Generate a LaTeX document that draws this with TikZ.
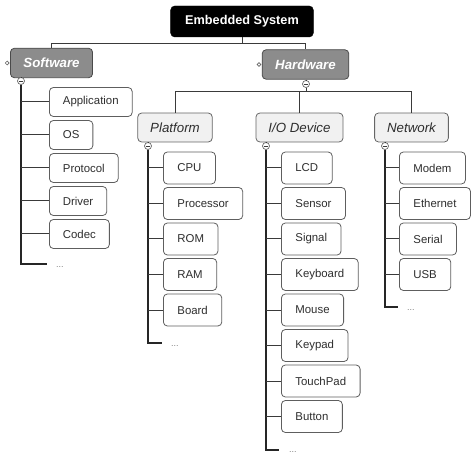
\documentclass[tikz,border=0pt]{standalone}
\usepackage{fontspec}
\setmainfont{Liberation Sans}
\usepackage{tikz}
\usetikzlibrary{shapes,arrows,positioning}

\definecolor{BranchFill}{HTML}{8C8C8C}
\definecolor{BranchLine}{HTML}{4A4A4A}
\definecolor{GroupFill}{HTML}{F1F1F1}
\definecolor{GroupLine}{HTML}{666666}
\definecolor{LeafLine}{HTML}{5E5E5E}
\definecolor{LeafText}{HTML}{2E2E2E}
\definecolor{WireColor}{HTML}{3A3A3A}

\begin{document}
\begin{tikzpicture}[x=1pt, y=-1pt]
		\tikzstyle{Root}	= [rectangle, rounded corners=4pt, fill=black, draw=black, text=white, font=\fontsize{12.7}{14}\selectfont\bfseries, inner xsep=14.5pt, minimum height=31pt]
		\tikzstyle{Branch}	= [rectangle, rounded corners=4pt, fill=BranchFill, draw=BranchLine, line width=0.8pt, text=white, font=\fontsize{13.3}{15}\selectfont\bfseries\itshape, inner xsep=13pt, minimum height=29.5pt]
		\tikzstyle{Group}	= [rectangle, rounded corners=4pt, fill=GroupFill, draw=GroupLine, line width=0.8pt, text=LeafText, font=\fontsize{13.3}{15}\selectfont\itshape, inner xsep=12.5pt, minimum height=29pt]
		\tikzstyle{Leaf}	= [rectangle, rounded corners=4pt, fill=white, draw=LeafLine, line width=0.8pt, text=LeafText, font=\fontsize{11.4}{13}\selectfont, inner xsep=14pt, minimum height=32pt, anchor=west]
		\tikzstyle{SWLeaf}	= [Leaf, inner xsep=13.5pt, minimum height=29pt]
		\tikzstyle{Toggle}	= [circle, draw=GroupLine, line width=0.7pt, fill=white, minimum size=7pt, inner sep=0pt, path picture={\draw [WireColor, line width=0.7pt] ([xshift=1.5pt]path picture bounding box.west) -- ([xshift=-1.5pt]path picture bounding box.east);}]
		\tikzstyle{Knob}	= [circle, draw=GroupLine, line width=0.6pt, fill=white, minimum size=3.8pt, inner sep=0pt]
		\tikzstyle{Dots}	= [inner sep=0pt, anchor=west, text=gray, font=\fontsize{9}{10}\selectfont]
		\tikzstyle{Tie}		= [draw=WireColor, line width=1pt]
		\tikzstyle{Trunk}	= [draw=black!85, line width=1.5pt]
		\tikzstyle{Twig}	= [draw=WireColor, line width=1pt]

		\useasboundingbox (0,0) rectangle (471,454);

		% top levels
		\node (root) at (242, 21.5) [Root] {Embedded System};
		\node (sw) at (51.5, 63) [Branch] {Software};
		\node (hw) at (305.5, 64.5) [Branch] {Hardware};
		\node (swk) [Knob, left=0.6pt of sw] {};
		\node (hwk) [Knob, left=0.6pt of hw] {};
		\node (swm) at (21, 81) [Toggle] {};
		\node (hwm) at (306, 84) [Toggle] {};

		\node (plat) at (175, 127.5) [Group] {Platform};
		\node (io) at (299.5, 127.5) [Group] {I/O Device};
		\node (net) at (411.5, 127.5) [Group] {Network};
		\node (platm) at (148, 146) [Toggle] {};
		\node (iom) at (266, 146) [Toggle] {};
		\node (netm) at (385, 146) [Toggle] {};

		% software leaves
		\node (app) at (49, 102) [SWLeaf] {Application};
		\node (os) at (49, 135) [SWLeaf] {OS};
		\node (proto) at (49, 168) [SWLeaf] {Protocol};
		\node (drv) at (49, 201) [SWLeaf] {Driver};
		\node (codec) at (49, 234) [SWLeaf] {Codec};
		\coordinate (swend) at (47, 264);
		\node (swdots) [Dots, right=9pt of swend, yshift=-3pt] {...};

		% platform leaves
		\node (cpu) at (163, 168) [Leaf] {CPU};
		\node (proc) at (163, 203.5) [Leaf] {Processor};
		\node (rom) at (163, 239) [Leaf] {ROM};
		\node (ram) at (163, 274.5) [Leaf] {RAM};
		\node (board) at (163, 310) [Leaf] {Board};
		\coordinate (platend) at (162, 343);
		\node (platdots) [Dots, right=9pt of platend, yshift=-3pt] {...};

		% i/o leaves
		\node (lcd) at (281, 168) [Leaf] {LCD};
		\node (sensor) at (281, 203.5) [Leaf] {Sensor};
		\node (signal) at (281, 239) [Leaf] {Signal};
		\node (kbd) at (281, 274.5) [Leaf] {Keyboard};
		\node (mouse) at (281, 310) [Leaf] {Mouse};
		\node (keypad) at (281, 345.5) [Leaf] {Keypad};
		\node (touch) at (281, 381) [Leaf] {TouchPad};
		\node (button) at (281, 416.5) [Leaf] {Button};
		\coordinate (ioend) at (279, 450);
		\node (iodots) [Dots, right=10pt of ioend, yshift=-2.5pt] {...};

		% network leaves
		\node (modem) at (399, 168) [Leaf] {Modem};
		\node (eth) at (399, 203.5) [Leaf] {Ethernet};
		\node (serial) at (399, 239) [Leaf] {Serial};
		\node (usb) at (399, 274.5) [Leaf] {USB};
		\coordinate (netend) at (398, 307);
		\node (netdots) [Dots, right=9pt of netend, yshift=-3pt] {...};

		% connectors
		\draw [-] (root.south) -- ++(0,6) -| (sw.north) [Tie];
		\draw [-] (root.south) -- ++(0,6) -| (hw.north) [Tie];
		\draw [-] (sw.south -| swm) to (swm.north) [Tie];
		\draw [-] (hw.south -| hwm) to (hwm.north) [Tie];
		\draw [-] (hwm.south) -- ++(0,4) -| (plat.north) [Tie];
		\draw [-] (hwm.south) -- ++(0,4) -| (io.north) [Tie];
		\draw [-] (hwm.south) -- ++(0,4) -| (net.north) [Tie];
		\draw [-] (plat.south -| platm) to (platm.north) [Tie];
		\draw [-] (io.south -| iom) to (iom.north) [Tie];
		\draw [-] (net.south -| netm) to (netm.north) [Tie];

		\draw [-] (swm.south) |- (swend) [Trunk];
		\draw [-] (platm.south) |- (platend) [Trunk];
		\draw [-] (iom.south) |- (ioend) [Trunk];
		\draw [-] (netm.south) |- (netend) [Trunk];

		\draw [-] (app.west -| swm) to (app.west) [Twig];
		\draw [-] (os.west -| swm) to (os.west) [Twig];
		\draw [-] (proto.west -| swm) to (proto.west) [Twig];
		\draw [-] (drv.west -| swm) to (drv.west) [Twig];
		\draw [-] (codec.west -| swm) to (codec.west) [Twig];

		\draw [-] (cpu.west -| platm) to (cpu.west) [Twig];
		\draw [-] (proc.west -| platm) to (proc.west) [Twig];
		\draw [-] (rom.west -| platm) to (rom.west) [Twig];
		\draw [-] (ram.west -| platm) to (ram.west) [Twig];
		\draw [-] (board.west -| platm) to (board.west) [Twig];

		\draw [-] (lcd.west -| iom) to (lcd.west) [Twig];
		\draw [-] (sensor.west -| iom) to (sensor.west) [Twig];
		\draw [-] (signal.west -| iom) to (signal.west) [Twig];
		\draw [-] (kbd.west -| iom) to (kbd.west) [Twig];
		\draw [-] (mouse.west -| iom) to (mouse.west) [Twig];
		\draw [-] (keypad.west -| iom) to (keypad.west) [Twig];
		\draw [-] (touch.west -| iom) to (touch.west) [Twig];
		\draw [-] (button.west -| iom) to (button.west) [Twig];

		\draw [-] (modem.west -| netm) to (modem.west) [Twig];
		\draw [-] (eth.west -| netm) to (eth.west) [Twig];
		\draw [-] (serial.west -| netm) to (serial.west) [Twig];
		\draw [-] (usb.west -| netm) to (usb.west) [Twig];
	\end{tikzpicture}
\end{document}
